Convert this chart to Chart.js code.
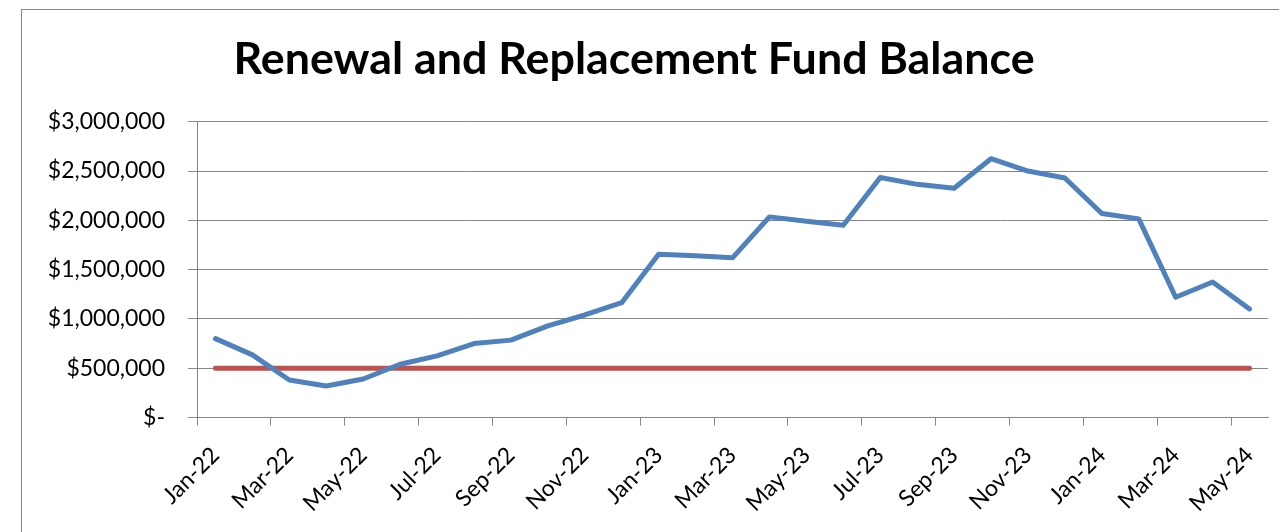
<!DOCTYPE html>
<html>
<head>
<meta charset="utf-8">
<title>Renewal and Replacement Fund Balance</title>
<script src="https://cdn.jsdelivr.net/npm/chart.js@4.4.1/dist/chart.umd.min.js"></script>
<style>
  html, body { margin: 0; padding: 0; background: #fff; overflow: hidden; }
  #frame {
    position: absolute; left: 21px; top: 9px; width: 1300px; height: 600px;
    border-left: 1px solid #868686; border-top: 1px solid #868686;
  }
  #wrap { position: absolute; left: 0; top: 0; width: 1279px; height: 532px; }
</style>
</head>
<body>
<div id="frame"></div>
<div id="wrap"><canvas id="myChart" width="1279" height="532"></canvas></div>
<script>
// months on the x axis
var months = ['Jan-22', 'Feb-22', 'Mar-22', 'Apr-22', 'May-22', 'Jun-22', 'Jul-22', 'Aug-22',
    'Sep-22', 'Oct-22', 'Nov-22', 'Dec-22', 'Jan-23', 'Feb-23', 'Mar-23', 'Apr-23',
    'May-23', 'Jun-23', 'Jul-23', 'Aug-23', 'Sep-23', 'Oct-23', 'Nov-23', 'Dec-23',
    'Jan-24', 'Feb-24', 'Mar-24', 'Apr-24', 'May-24']

// fund balance
var fundBalance = [800000, 635000, 380000, 320000, 390000, 540000, 625000, 750000,
    785000, 930000, 1040000, 1165000, 1655000, 1640000, 1620000, 2035000,
    1990000, 1950000, 2435000, 2365000, 2325000, 2625000, 2500000, 2430000,
    2070000, 2015000, 1220000, 1375000, 1100000]

// minimum balance (red line)
var minimumBalance = [500000, 500000, 500000, 500000, 500000, 500000, 500000, 500000,
    500000, 500000, 500000, 500000, 500000, 500000, 500000, 500000,
    500000, 500000, 500000, 500000, 500000, 500000, 500000, 500000,
    500000, 500000, 500000, 500000, 500000]

// y axis ticks
var yTicks = [0, 500000, 1000000, 1500000, 2000000, 2500000, 3000000]

var gridGray = '#868686'
var font = 'Lato'

function money(v) {
    if (v === 0) return '$-'
    return '$' + v.toLocaleString('en-US')
}

let ctx = document.getElementById('myChart').getContext('2d');
let myChart = new Chart(ctx, {
    type: 'line',
    data: {
        labels: months,
        datasets: [{
            label: 'Fund Balance',
            data: fundBalance,
            borderColor: '#4F81BD',
            backgroundColor: '#4F81BD',
            borderWidth: 5,
            tension: 0,
            pointRadius: 0,
            borderCapStyle: 'round',
            borderJoinStyle: 'round'
        }, {
            label: 'Minimum',
            data: minimumBalance,
            borderColor: '#C0504D',
            backgroundColor: '#C0504D',
            borderWidth: 5,
            tension: 0,
            pointRadius: 0,
            borderCapStyle: 'round'
        }]
    },
    options: {
        responsive: false,
        animation: false,
        layout: { padding: { left: 0, right: 11, top: 0, bottom: 0 } },
        plugins: {
            legend: { display: false },
            tooltip: { enabled: false },
            title: {
                display: true,
                text: 'Renewal and Replacement Fund Balance',
                color: '#000',
                font: { family: font, size: 44.8, weight: 'bold', lineHeight: 1.2 },
                padding: { top: 33, bottom: 35 }
            }
        },
        scales: {
            x: {
                offset: true,
                grid: {
                    offset: true,
                    drawOnChartArea: false,
                    tickLength: 8,
                    // tick marks only every other month, like the labels
                    tickColor: function (c) { return c.index % 2 === 0 ? gridGray : 'rgba(0,0,0,0)' }
                },
                border: { color: gridGray, width: 1 },
                ticks: {
                    autoSkip: false,
                    maxRotation: 45,
                    minRotation: 45,
                    padding: 16,
                    color: '#000',
                    font: { family: font, size: 23 },
                    callback: function (v, i) { return i % 2 === 0 ? months[i] : '' }
                },
                afterFit: function (s) {
                    s.height = 114.5
                    s.paddingLeft = 0
                    s.paddingRight = 0
                }
            },
            y: {
                min: 0,
                max: 3000000,
                afterBuildTicks: function (s) { s.ticks = yTicks.map(function (v) { return { value: v } }) },
                grid: { color: gridGray, tickLength: 9, lineWidth: 1 },
                border: { color: gridGray, width: 1 },
                ticks: {
                    padding: 23,
                    color: '#000',
                    font: { family: font, size: 23 },
                    callback: function (v) { return money(v) }
                },
                afterFit: function (s) { s.width = 197 }
            }
        }
    }
});
</script>
</body>
</html>
